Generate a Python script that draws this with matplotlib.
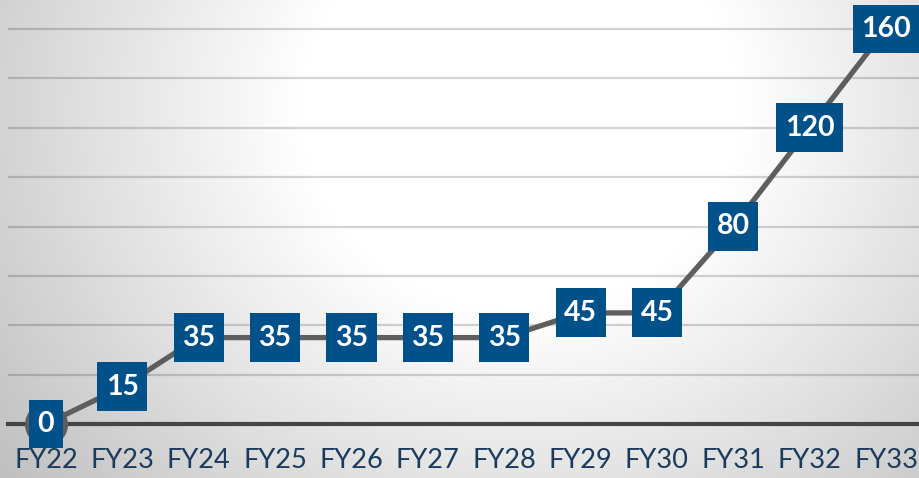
import numpy as np
import matplotlib
matplotlib.use("Agg")
import matplotlib.pyplot as plt
from matplotlib.path import Path

# ---- data ----
categories = ["FY22", "FY23", "FY24", "FY25", "FY26", "FY27",
              "FY28", "FY29", "FY30", "FY31", "FY32", "FY33"]
values = [0, 15, 35, 35, 35, 35, 35, 45, 45, 80, 120, 160]
grid_ticks = list(range(0, 161, 20))

W, H, DPI = 919, 478, 100
fig = plt.figure(figsize=(W / DPI, H / DPI), dpi=DPI)

# ---- radial gradient background ----
bg = fig.add_axes([0, 0, 1, 1])
yy, xx = np.mgrid[0:H, 0:W]
cx, cy = 520, 110
d = np.sqrt((xx - cx) ** 2 + ((yy - cy) * 1.1) ** 2)
v = 255 - 0.145 * np.clip(d - 220, 0, None)
v = np.clip(v, 192, 255) / 255.0
img = np.dstack([v, v, v])
bg.imshow(img, extent=[0, W, H, 0], aspect="auto", interpolation="bilinear")
bg.set_xlim(0, W)
bg.set_ylim(H, 0)
bg.axis("off")

# ---- main axes ----
x_left_px, x_right_px = 8, W
y0_px = 424  # pixel row (from top) of value 0
ax = fig.add_axes([x_left_px / W, (H - y0_px) / H, (x_right_px - x_left_px) / W, y0_px / H])
ax.set_facecolor("none")
px_per_x = (886 - 46) / 11.0
xmin = -(46 - x_left_px) / px_per_x
xmax = xmin + (x_right_px - x_left_px) / px_per_x
ax.set_xlim(xmin, xmax)
px_per_y = (424 - 29) / 160.0
ax.set_ylim(0, y0_px / px_per_y)

for s in ax.spines.values():
    s.set_visible(False)

ax.set_yticks(grid_ticks)
ax.yaxis.grid(True, color="black", alpha=0.17, linewidth=1.6)
ax.tick_params(axis="y", length=0, labelleft=False)
ax.set_axisbelow(True)
ax.axhline(0, color="#454545", linewidth=3.0, zorder=2, clip_on=False)

xs = np.arange(len(categories))
ax.set_xticks(xs)
ax.set_xticklabels(categories, fontsize=19.5, color="#1B3A5C",
                   family=["Lato", "DejaVu Sans"])
ax.tick_params(axis="x", length=0, pad=17)

ax.plot(xs, values, color="#5e5e5e", linewidth=3.8, marker="o",
        markersize=31, markerfacecolor="#5e5e5e", markeredgewidth=0,
        zorder=3, clip_on=False, solid_capstyle="round")


def label_box(x0, y0, width, height, mutation_size):
    padx = 0.30 * mutation_size
    bh = 1.72 * mutation_size
    cxb = x0 + width / 2.0
    cyb = y0 + height / 2.0
    l, r = cxb - width / 2.0 - padx, cxb + width / 2.0 + padx
    b, t = cyb - bh / 2.0, cyb + bh / 2.0
    return Path([(l, b), (r, b), (r, t), (l, t), (l, b)],
                [Path.MOVETO, Path.LINETO, Path.LINETO, Path.LINETO, Path.CLOSEPOLY])


for x, val in zip(xs, values):
    ax.text(x, val, str(val), ha="center", va="center",
            fontsize=20.5, fontweight="bold", color="white",
            family=["Lato", "DejaVu Sans"], zorder=5, clip_on=False,
            bbox=dict(boxstyle=label_box, facecolor="#00508A", edgecolor="none"))

fig.savefig("out.png", dpi=DPI)
